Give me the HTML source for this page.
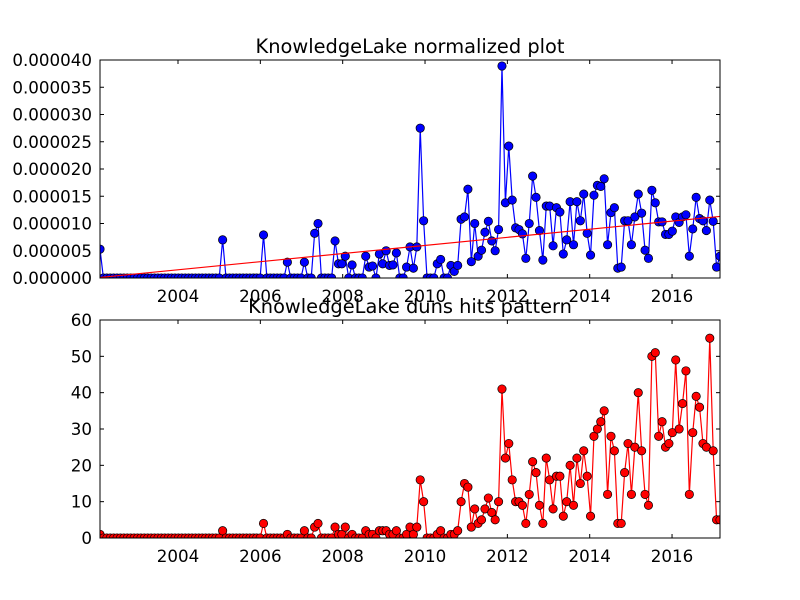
<!DOCTYPE html>
<html><head><meta charset="utf-8"><style>
body{margin:0;background:#fff;}
svg{display:block;font-family:"DejaVu Sans","Liberation Sans",sans-serif;}
</style></head><body>
<svg id="chart" width="800" height="600" viewBox="0 0 800 600"></svg>
<script>
// Monthly data starting Feb 2002
const startYear = 2002;
const startMonth = 1;
const hits = [
1,0,0,0,0,0,0,0,0,0,
0,0,0,0,0,0,0,0,0,0,
0,0,0,0,0,0,0,0,0,0,
0,0,0,0,0,0,2,0,0,0,
0,0,0,0,0,0,0,0,4,0,
0,0,0,0,0,1,0,0,0,0,
2,0,0,3,4,0,0,0,0,3,
1,1,3,0,1,0,0,0,2,1,
1,0,2,2,2,1,1,2,0,0,
1,3,1,3,16,10,0,0,0,1,
2,0,0,1,1,2,10,15,14,
3,8,4,5,8,11,7,5,10,41,
22,26,16,10,10,9,4,12,21,18,
9,4,22,16,8,17,17,6,10,20,
9,22,15,24,17,6,28,30,32,35,
12,28,24,4,4,18,26,12,25,40,
24,12,9,50,51,28,32,25,26,29,
49,30,37,46,12,29,39,36,26,25,
55,24,5,5];
// normalized values in units of 1e-6
const normalized = [
5.3,0,0,0,0,0,0,0,0,0,
0,0,0,0,0,0,0,0,0,0,
0,0,0,0,0,0,0,0,0,0,
0,0,0,0,0,0,7.0,0,0,0,
0,0,0,0,0,0,0,0,7.9,0,
0,0,0,0,0,2.9,0,0,0,0,
2.9,0,0,8.2,10.0,0,0,0,0,6.8,
2.6,2.6,4.0,0,2.4,0,0,0,4.0,2.0,
2.2,0,4.4,2.6,5.0,2.3,2.4,4.6,0,0,
2.0,5.7,1.8,5.7,27.5,10.5,0,0,0,2.6,
3.4,0,0,2.3,1.2,2.3,10.8,11.2,16.3,
3.0,10.0,4.0,5.1,8.4,10.4,6.8,5.0,8.9,38.9,
13.8,24.2,14.3,9.2,8.9,8.1,3.6,10.0,18.7,14.8,
8.7,3.3,13.2,13.2,5.9,12.9,12.1,4.4,7.0,14.0,
6.1,14.0,10.5,15.4,8.2,4.2,15.2,17.0,16.8,18.2,
6.1,12.0,12.9,1.8,2.0,10.5,10.5,6.1,11.2,15.4,
11.9,5.1,3.6,16.1,13.8,10.3,10.3,8.0,8.0,8.6,
11.2,10.2,11.2,11.6,4.0,9.0,14.8,10.9,10.5,8.7,
14.3,10.4,2.0,4.0];
// trend line values (1e-6) at first and last month
const trendValues = [0.1, 11.3];
const xTickYears = [2004,2006,2008,2010,2012,2014,2016];
const topTickLabels = ["0.000000","0.000005","0.000010","0.000015","0.000020","0.000025","0.000030","0.000035","0.000040"];
const bottomTickLabels = ["0","10","20","30","40","50","60"];
const titles = ["KnowledgeLake normalized plot","KnowledgeLake duns hits pattern"];

const NS="http://www.w3.org/2000/svg";
const svg=document.getElementById('chart');
function mk(tag,attrs,parent){const e=document.createElementNS(NS,tag);for(const k in attrs)e.setAttribute(k,attrs[k]);(parent||svg).appendChild(e);return e;}

const X0=100,X1=720;
const n=hits.length;
const t0=startYear+startMonth/12;
const t1=t0+(n-1)/12;
const pxPerYear=41.17;
function xYear(t){return 178+(t-2004)*pxPerYear;}
function xIdx(i){return X0+i/(n-1)*(X1-X0);}

function drawPanel(cfg){
  const g=mk('g',{});
  
  
  const yS=v=>cfg.yb-(v-cfg.ymin)/(cfg.ymax-cfg.ymin)*(cfg.yb-cfg.yt);
  const tt=mk('text',{x:410,y:cfg.yt-7,'text-anchor':'middle','font-size':19.4,fill:'#000'},g);
  tt.textContent=cfg.title;
  
  
  cfg.ticks.forEach((lab,k)=>{
    const v=cfg.ymin+k*cfg.step;const y=yS(v);
    mk('line',{x1:X0,x2:X0+4,y1:y,y2:y,stroke:'#000','stroke-width':1},g);
    mk('line',{x1:X1,x2:X1-4,y1:y,y2:y,stroke:'#000','stroke-width':1},g);
    const t=mk('text',{x:X0-8,y:y+6,'text-anchor':'end','font-size':16.7,fill:'#000'},g);
    t.textContent=lab;
    
    
  });
  xTickYears.forEach(yr=>{
    const x=xYear(yr);
    mk('line',{x1:x,x2:x,y1:cfg.yb,y2:cfg.yb-4,stroke:'#000','stroke-width':1},g);
    mk('line',{x1:x,x2:x,y1:cfg.yt,y2:cfg.yt+4,stroke:'#000','stroke-width':1},g);
    const t=mk('text',{x:x,y:cfg.yb+24,'text-anchor':'middle','font-size':16.7,fill:'#000'},g);
    t.textContent=String(yr);
    
    
  });
  const cid='clip-'+cfg.name;
  const cp=mk('clipPath',{id:cid},g);
  mk('rect',{x:X0,y:cfg.yt,width:X1-X0,height:cfg.yb-cfg.yt},cp);
  const dg=mk('g',{'clip-path':'url(#'+cid+')'},g);
  const pts=cfg.data.map((v,i)=>xIdx(i).toFixed(2)+','+yS(v).toFixed(2)).join(' ');
  const pl=mk('polyline',{points:pts,fill:'none',stroke:cfg.color,'stroke-width':1.2},dg);
  
  
  cfg.data.forEach((v,i)=>{
    const c=mk('circle',{cx:xIdx(i),cy:yS(v),r:4.2,fill:cfg.color,stroke:'#000','stroke-width':0.7},dg);
    
    
  });
  if(cfg.trend){
    const tl=mk('line',{x1:xIdx(0),y1:yS(cfg.trend[0]),x2:xIdx(n-1),y2:yS(cfg.trend[1]),stroke:'#ff0000','stroke-width':1.2},dg);
    
    
  }
  const fr=mk('rect',{x:X0,y:cfg.yt,width:X1-X0,height:cfg.yb-cfg.yt,fill:'none',stroke:'#000','stroke-width':1},g);
  
  
}
drawPanel({name:'normalized-plot',title:titles[0],yt:60,yb:278,ymin:0,ymax:40,step:5,ticks:topTickLabels,data:normalized,color:'#0000ff',trend:trendValues});
drawPanel({name:'hits-plot',title:titles[1],yt:320,yb:538,ymin:0,ymax:60,step:10,ticks:bottomTickLabels,data:hits,color:'#ff0000',trend:null});
</script>
</body></html>
